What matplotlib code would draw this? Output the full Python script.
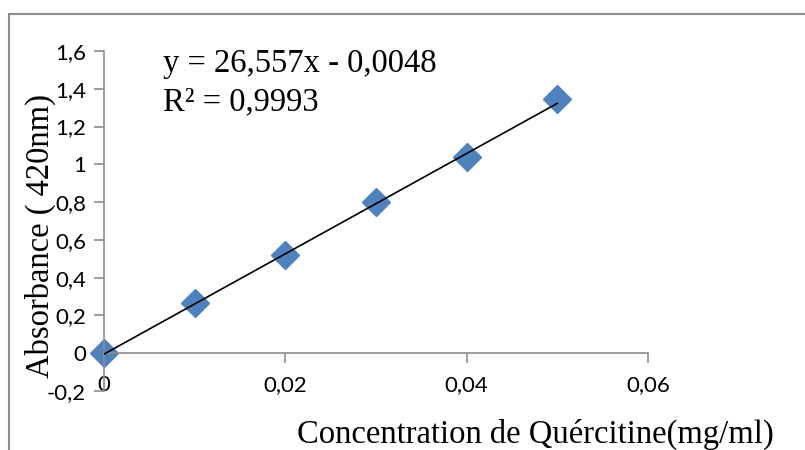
import matplotlib
matplotlib.use("Agg")
import matplotlib.pyplot as plt
import numpy as np

conc = [0.0, 0.01, 0.02, 0.03, 0.04, 0.05]
absorb = [0.0, 0.265, 0.52, 0.80, 1.037, 1.345]
slope = 26.557
intercept = -0.0048
r2 = 0.9993
xticks = [0, 0.02, 0.04, 0.06]
xtick_labels = ["0", "0,02", "0,04", "0,06"]
yticks = [-0.2, 0, 0.2, 0.4, 0.6, 0.8, 1.0, 1.2, 1.4, 1.6]
ytick_labels = ["-0,2", "0", "0,2", "0,4", "0,6", "0,8", "1", "1,2", "1,4", "1,6"]

W, H = 805, 450
fig = plt.figure(figsize=(W / 100, H / 100), dpi=100)

# outer frame lines (top and left)
fig.add_artist(plt.Line2D([9 / W, 1.0], [1 - 14 / H, 1 - 14 / H], color="#8c8c8c", lw=1.5, transform=fig.transFigure))
fig.add_artist(plt.Line2D([9 / W, 9 / W], [1 - 14 / H, 0], color="#8c8c8c", lw=1.5, transform=fig.transFigure))

ax = fig.add_axes([104 / W, 1 - 391 / H, (648 - 104) / W, (391 - 51) / H])
ax.set_xlim(0, 0.06)
ax.set_ylim(-0.2, 1.6)

gray = "#8c8c8c"
for s in ["top", "right"]:
    ax.spines[s].set_visible(False)
ax.spines["left"].set_color(gray)
ax.spines["left"].set_linewidth(1.2)
ax.spines["bottom"].set_position(("data", 0))
ax.spines["bottom"].set_color(gray)
ax.spines["bottom"].set_linewidth(1.2)

tickfont = dict(family="Lato", size=16)
ax.set_xticks(xticks)
ax.set_xticklabels(xtick_labels, **tickfont)
ax.set_yticks(yticks)
ax.set_yticklabels(ytick_labels, **tickfont)
ax.tick_params(axis="x", direction="out", length=7, color=gray, width=1.2, pad=9)
ax.tick_params(axis="y", direction="out", length=7, color=gray, width=1.2, pad=6)

# trendline
xfit = np.array([min(conc), max(conc)])
ax.plot(xfit, slope * xfit + intercept, color="black", lw=1.2, zorder=3)
ax.plot(conc, absorb, linestyle="none", marker="D", markersize=14,
        color="#4F81BD", markeredgecolor="#4F81BD", zorder=2, clip_on=False)

serif = dict(family="Liberation Serif", size=23.5)
eq = f"y = {slope:.3f}x - {abs(intercept):.4f}".replace(".", ",")
rr = f"R² = {r2:.4f}".replace(".", ",")
fig.text(163 / W, 1 - 64 / H, eq, va="center", ha="left", **serif)
fig.text(163 / W, 1 - 102 / H, rr, va="center", ha="left", **serif)

fig.text(40 / W, 1 - 236 / H, "Absorbance ( 420nm)", rotation=90, va="center", ha="center", **serif)
fig.text(535 / W, 1 - 434 / H, "Concentration de Quércitine(mg/ml)", va="center", ha="center", **serif)

fig.savefig("out.png", dpi=100)
